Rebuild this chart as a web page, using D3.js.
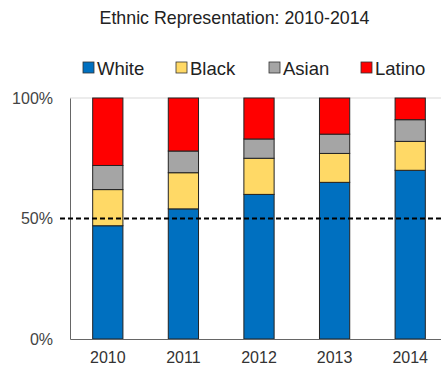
<!DOCTYPE html>
<html>
<head>
<meta charset="utf-8">
<script src="https://cdn.jsdelivr.net/npm/d3@7"></script>
<style>
  body { margin: 0; background: #fff; }
  svg { display: block; font-family: "Liberation Sans", Arial, sans-serif; }
</style>
</head>
<body>
<svg id="chart" width="441" height="370"></svg>
<script>
// Share of each group per year, in percent
const years = ["2010", "2011", "2012", "2013", "2014"];
const groups = ["White", "Black", "Asian", "Latino"];
const white  = [47, 54, 60, 65, 70];
const black  = [15, 15, 15, 12, 12];
const asian  = [10,  9,  8,  8,  9];
const latino = [28, 22, 17, 15,  9];
const yTicks = [0, 50, 100];
const colors = ["#0070C0", "#FFD966", "#A5A5A5", "#FF0000"];

const rows = years.map((y, i) => ({
  year: y, White: white[i], Black: black[i], Asian: asian[i], Latino: latino[i]
}));

const svg = d3.select("#chart");
const margin = { left: 70, top: 98, bottom: 31 };
const plotW = 378, plotH = 370 - margin.top - margin.bottom;

const x = d3.scaleBand().domain(years).range([margin.left, margin.left + plotW]).paddingInner(0.6).paddingOuter(0.3);
const y = d3.scaleLinear().domain([0, 100]).range([margin.top + plotH, margin.top]);
const color = d3.scaleOrdinal().domain(groups).range(colors);

// Title
svg.append("text")
  .attr("x", 234.5).attr("y", 24)
  .attr("text-anchor", "middle")
  .attr("font-size", 17.8).attr("fill", "#222")
  .text("Ethnic Representation: 2010-2014");

// Legend
const legendX = [83, 176, 269, 361];
const legend = svg.append("g").selectAll("g").data(groups).join("g")
  .attr("transform", (d, i) => `translate(${legendX[i]},68)`);
legend.append("rect")
  .attr("x", 0).attr("y", -6).attr("width", 11).attr("height", 11)
  .attr("fill", d => color(d)).attr("stroke", "#333").attr("stroke-width", 0.8);
legend.append("text")
  .attr("x", 14).attr("y", 0).attr("dy", "0.36em")
  .attr("font-size", 18.5).attr("fill", "#222")
  .text(d => d);

// Top gridline at 100%
svg.append("line")
  .attr("x1", margin.left).attr("x2", margin.left + plotW)
  .attr("y1", y(100)).attr("y2", y(100))
  .attr("stroke", "#d9d9d9").attr("stroke-width", 1);

// Stacked bars
const stack = d3.stack().keys(groups)(rows);
svg.append("g").selectAll("g").data(stack).join("g")
  .attr("fill", d => color(d.key))
  .selectAll("rect").data(d => d).join("rect")
  .attr("x", d => x(d.data.year))
  .attr("width", x.bandwidth())
  .attr("y", d => y(d[1]))
  .attr("height", d => y(d[0]) - y(d[1]))
  .attr("stroke", "#222").attr("stroke-width", 1);

// Axes
const yAxis = svg.append("g")
  .attr("transform", `translate(${margin.left},0)`)
  .call(d3.axisLeft(y).tickValues(yTicks).tickFormat(d => d + "%").tickSize(0).tickPadding(17));
yAxis.select(".domain").attr("stroke", "#666");
yAxis.selectAll("text").attr("font-size", 16).attr("fill", "#444").attr("font-family", "Liberation Sans, Arial, sans-serif");

const xAxis = svg.append("g")
  .attr("transform", `translate(0,${margin.top + plotH})`)
  .call(d3.axisBottom(x).tickSize(0).tickPadding(13));
xAxis.select(".domain").attr("stroke", "#666");
xAxis.selectAll("text").attr("font-size", 16).attr("fill", "#333").attr("font-family", "Liberation Sans, Arial, sans-serif");

// 50% reference line
svg.append("line")
  .attr("x1", 60).attr("x2", 441)
  .attr("y1", y(50)).attr("y2", y(50))
  .attr("stroke", "#000").attr("stroke-width", 1.8)
  .attr("stroke-dasharray", "5,3");
</script>
</body>
</html>
